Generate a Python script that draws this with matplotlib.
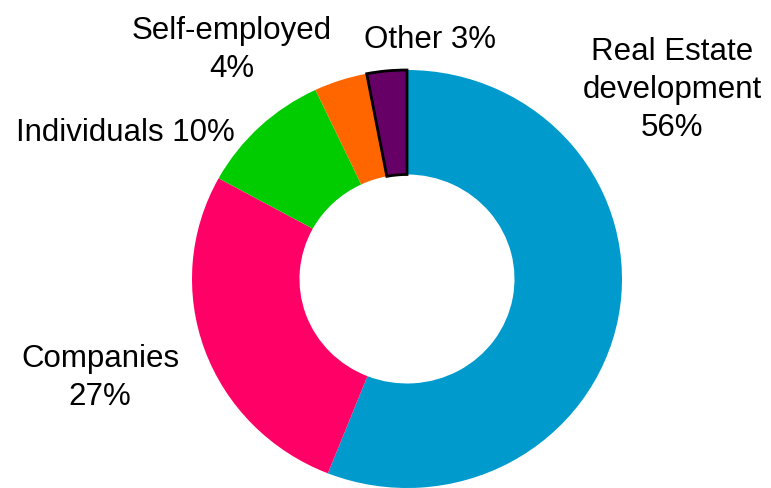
import matplotlib.pyplot as plt

plt.rcParams['font.family'] = ['Liberation Sans', 'DejaVu Sans']

labels = ['Real Estate\ndevelopment\n56%', 'Companies\n27%', 'Individuals 10%',
          'Self-employed\n4%', 'Other 3%']
shares = [56, 27, 10, 4, 3]
colors = ['#009ACD', '#FF0066', '#00CC00', '#FF6600', '#660066']

W, H = 771, 489
fig = plt.figure(figsize=(W / 100, H / 100), dpi=100)

# donut centre (407, 280) px, radius ~215 x 209 px
cx, cy, rx, ry = 407, 280, 215, 209
ax = fig.add_axes([(cx - rx) / W, (H - cy - ry) / H, 2 * rx / W, 2 * ry / H])

wedges, _ = ax.pie(shares, colors=colors, startangle=90, counterclock=False,
                   radius=1, wedgeprops=dict(width=0.5, linewidth=0))
wedges[-1].set_edgecolor('black')
wedges[-1].set_linewidth(2)
ax.set_aspect('auto')
ax.set_xlim(-1, 1)
ax.set_ylim(-1, 1)
ax.axis('off')

# label positions in pixels (x, y from top)
label_pos = [(672, 90), (100, 378), (125, 133), (232, 50), (430, 40)]
for txt, (px, py) in zip(labels, label_pos):
    fig.text(px / W, 1 - py / H, txt, ha='center', va='center',
             fontsize=22.5, linespacing=1.35, color='black')

fig.savefig('out.png', dpi=100)
